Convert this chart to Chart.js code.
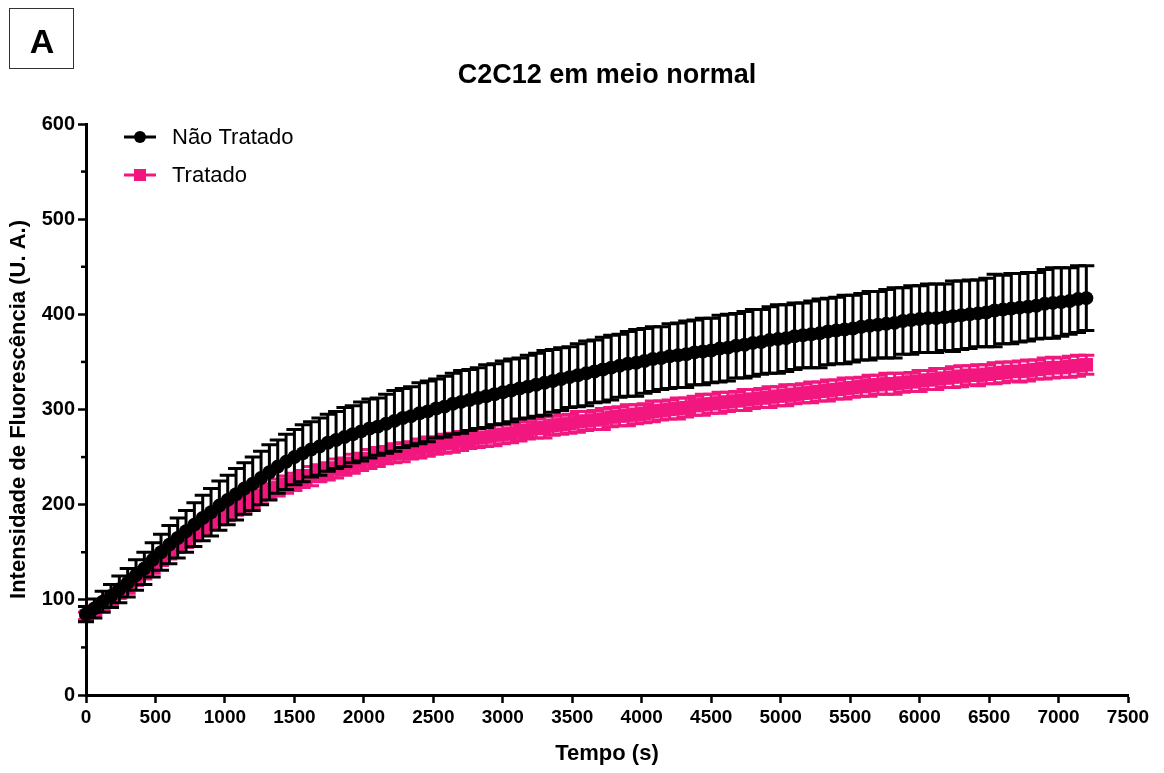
<!DOCTYPE html>
<html>
<head>
<meta charset="utf-8">
<title>C2C12 em meio normal</title>
<script src="https://cdn.jsdelivr.net/npm/chart.js@4.4.1/dist/chart.umd.min.js"></script>
<style>
  html, body { margin: 0; padding: 0; background: #fff; }
  #wrap { width: 1164px; height: 773px; position: relative; }
</style>
</head>
<body>
<div id="wrap"><canvas id="grafico" width="1164" height="773"></canvas></div>
<script>
const FONTE = "'Liberation Sans', Arial, Helvetica, sans-serif";
const ROSA = "#F2177F";

// tempo (s)
const tempo = [
  0, 60, 120, 180, 240, 300, 360, 420, 480, 540, 600,
  660, 720, 780, 840, 900, 960, 1020, 1080, 1140, 1200,
  1260, 1320, 1380, 1440, 1500, 1560, 1620, 1680, 1740, 1800,
  1860, 1920, 1980, 2040, 2100, 2160, 2220, 2280, 2340, 2400,
  2460, 2520, 2580, 2640, 2700, 2760, 2820, 2880, 2940, 3000,
  3060, 3120, 3180, 3240, 3300, 3360, 3420, 3480, 3540, 3600,
  3660, 3720, 3780, 3840, 3900, 3960, 4020, 4080, 4140, 4200,
  4260, 4320, 4380, 4440, 4500, 4560, 4620, 4680, 4740, 4800,
  4860, 4920, 4980, 5040, 5100, 5160, 5220, 5280, 5340, 5400,
  5460, 5520, 5580, 5640, 5700, 5760, 5820, 5880, 5940, 6000,
  6060, 6120, 6180, 6240, 6300, 6360, 6420, 6480, 6540, 6600,
  6660, 6720, 6780, 6840, 6900, 6960, 7020, 7080, 7140, 7200
];

// Não Tratado: média e desvio
const naoTratado = [
  85, 91, 98, 104, 111, 118, 126, 133, 142, 150, 158,
  165, 172, 179, 186, 192, 199, 205, 211, 217, 222,
  228, 234, 240, 245, 250, 254, 258, 261, 265, 268,
  271, 274, 277, 280, 282, 285, 288, 291, 293, 296,
  298, 301, 303, 306, 308, 310, 312, 314, 316, 318,
  320, 322, 324, 326, 328, 330, 332, 334, 336, 338,
  340, 342, 344, 346, 348, 349, 351, 353, 354, 356,
  357, 358, 360, 361, 362, 364, 365, 367, 368, 370,
  371, 373, 374, 375, 377, 378, 379, 380, 382, 383,
  384, 385, 387, 388, 389, 390, 391, 393, 394, 395,
  396, 396, 397, 398, 399, 400, 401, 402, 404, 405,
  406, 407, 408, 409, 411, 412, 413, 414, 416, 417
];
const naoTratadoDP = [
  8, 10, 11, 12, 14, 15, 16, 17, 18, 19, 20,
  21, 22, 23, 24, 25, 26, 26, 27, 27, 28,
  28, 29, 28, 29, 29, 30, 29, 30, 30, 30,
  31, 30, 31, 31, 30, 31, 32, 31, 31, 32,
  32, 31, 32, 32, 33, 32, 32, 33, 32, 33,
  33, 32, 33, 33, 34, 33, 33, 32, 33, 34,
  33, 34, 34, 33, 34, 35, 34, 34, 33, 34,
  34, 35, 34, 35, 34, 35, 35, 34, 35, 35,
  34, 35, 36, 35, 35, 34, 35, 36, 35, 35,
  36, 35, 35, 36, 35, 36, 37, 35, 36, 35,
  36, 36, 35, 37, 36, 36, 35, 36, 38, 36,
  37, 36, 36, 35, 36, 37, 36, 35, 35, 34
];

// Tratado: média e desvio
const tratado = [
  83, 88, 94, 100, 107, 113, 121, 128, 135, 143, 150,
  157, 163, 170, 176, 182, 187, 192, 197, 202, 206,
  210, 214, 218, 221, 224, 227, 230, 233, 235, 238,
  240, 243, 245, 248, 250, 252, 254, 255, 257, 259,
  261, 262, 264, 265, 267, 268, 270, 271, 273, 274,
  275, 277, 278, 280, 281, 283, 284, 285, 287, 288,
  289, 290, 292, 293, 294, 295, 296, 298, 299, 300,
  301, 302, 304, 305, 306, 307, 308, 309, 310, 311,
  312, 313, 314, 315, 316, 317, 318, 319, 320, 321,
  322, 323, 324, 325, 326, 327, 327, 328, 329, 330,
  331, 332, 333, 334, 335, 336, 336, 337, 338, 339,
  340, 340, 341, 342, 343, 344, 344, 345, 346, 347
];
const tratadoDP = [
  4, 4, 5, 5, 5, 6, 6, 6, 7, 7, 7,
  7, 8, 8, 8, 8, 8, 9, 8, 9, 9,
  9, 8, 9, 9, 9, 9, 10, 9, 9, 10,
  9, 10, 9, 10, 10, 9, 10, 10, 9, 10,
  10, 9, 10, 10, 10, 9, 10, 10, 11, 10,
  10, 10, 9, 10, 11, 10, 10, 10, 11, 10,
  10, 11, 10, 10, 11, 10, 10, 11, 10, 10,
  11, 10, 10, 11, 10, 11, 10, 10, 11, 10,
  10, 11, 10, 11, 10, 10, 11, 10, 11, 10,
  11, 10, 10, 11, 10, 11, 11, 10, 10, 11,
  10, 11, 10, 11, 11, 10, 11, 10, 11, 11,
  10, 11, 11, 10, 11, 11, 10, 11, 11, 10
];

const serieNomes = ["Não Tratado", "Tratado"];
const yTicks = [0, 100, 200, 300, 400, 500, 600];
const titulo = "C2C12 em meio normal";

function pontos(medias) {
  return tempo.map((t, i) => ({ x: t, y: medias[i] }));
}

// barras de erro (média ± DP) desenhadas antes de cada série
const barrasErro = {
  id: "barrasErro",
  beforeDatasetDraw(chart, args) {
    const ds = chart.data.datasets[args.index];
    if (!ds.erro) return;
    const ctx = chart.ctx;
    const yScale = chart.scales.y;
    ctx.save();
    ctx.strokeStyle = ds.borderColor;
    args.meta.data.forEach((el, i) => {
      const m = ds.data[i].y, dp = ds.erro[i];
      const yt = yScale.getPixelForValue(m + dp);
      const yb = yScale.getPixelForValue(m - dp);
      ctx.lineWidth = 3;
      ctx.beginPath();
      ctx.moveTo(el.x, yt); ctx.lineTo(el.x, yb);
      ctx.moveTo(el.x - 8, yt); ctx.lineTo(el.x + 8, yt);
      ctx.moveTo(el.x - 8, yb); ctx.lineTo(el.x + 8, yb);
      ctx.stroke();
    });
    ctx.restore();
  }
};

// título, legenda, traços menores e o quadro "A"
const extras = {
  id: "extras",
  afterDraw(chart) {
    const ctx = chart.ctx;
    const area = chart.chartArea;
    const yScale = chart.scales.y;
    ctx.save();

    // título centrado sobre a área do gráfico
    ctx.fillStyle = "#000";
    ctx.font = "bold 27px " + FONTE;
    ctx.textAlign = "center";
    ctx.textBaseline = "middle";
    ctx.fillText(titulo, (area.left + area.right) / 2, 76);

    // traços menores do eixo y
    ctx.strokeStyle = "#000";
    ctx.lineWidth = 2.5;
    for (let v = 50; v < 600; v += 100) {
      const py = yScale.getPixelForValue(v);
      ctx.beginPath(); ctx.moveTo(area.left, py); ctx.lineTo(area.left - 5, py); ctx.stroke();
    }

    // legenda
    ctx.font = "22px " + FONTE;
    ctx.textBaseline = "middle";
    ctx.textAlign = "left";
    chart.data.datasets.forEach((ds, i) => {
      const y = 137 + i * 38;
      ctx.strokeStyle = ds.borderColor;
      ctx.lineWidth = 3;
      ctx.beginPath(); ctx.moveTo(124, y); ctx.lineTo(156, y); ctx.stroke();
      ctx.fillStyle = ds.borderColor;
      if (ds.pointStyle === "rect") {
        ctx.fillRect(134, y - 6, 12, 12);
      } else {
        ctx.beginPath(); ctx.arc(140, y, 6, 0, Math.PI * 2); ctx.fill();
      }
      ctx.fillStyle = "#000";
      ctx.fillText(ds.label, 172, y + 1);
    });

    // quadro "A"
    ctx.strokeStyle = "#333";
    ctx.lineWidth = 1;
    ctx.strokeRect(9.5, 8.5, 64, 60);
    ctx.fillStyle = "#000";
    ctx.font = "bold 34px " + FONTE;
    ctx.textAlign = "center";
    ctx.textBaseline = "alphabetic";
    ctx.fillText("A", 42, 53);
    ctx.restore();
  }
};

const ctx = document.getElementById("grafico").getContext("2d");
new Chart(ctx, {
  type: "line",
  data: {
    datasets: [
      {
        label: serieNomes[0],
        data: pontos(naoTratado),
        erro: naoTratadoDP,
        borderColor: "#000",
        backgroundColor: "#000",
        borderWidth: 3,
        pointStyle: "circle",
        pointRadius: 7,
        pointBorderWidth: 0,
        clip: false
      },
      {
        label: serieNomes[1],
        data: pontos(tratado),
        erro: tratadoDP,
        borderColor: ROSA,
        backgroundColor: ROSA,
        borderWidth: 3,
        pointStyle: "rect",
        pointRadius: 9.5,
        pointBorderWidth: 0,
        clip: false
      }
    ]
  },
  options: {
    responsive: false,
    animation: false,
    devicePixelRatio: 1,
    layout: { padding: { left: 0, right: 36, top: 124, bottom: 0 } },
    plugins: {
      legend: { display: false },
      tooltip: { enabled: false },
      title: { display: false }
    },
    scales: {
      x: {
        type: "linear",
        min: 0,
        max: 7500,
        ticks: {
          stepSize: 500,
          autoSkip: false,
          maxRotation: 0,
          color: "#000",
          padding: 3,
          font: { family: FONTE, size: 19, weight: "bold" },
          callback: v => String(v)
        },
        grid: { drawOnChartArea: false, drawTicks: true, tickLength: 8, tickWidth: 2.5, tickColor: "#000" },
        border: { display: true, color: "#000", width: 3 },
        title: {
          display: true,
          text: "Tempo (s)",
          color: "#000",
          font: { family: FONTE, size: 22, weight: "bold" },
          padding: { top: 0, bottom: 6 }
        },
        afterFit(s) { s.height = 78; }
      },
      y: {
        min: 0,
        max: 600,
        afterBuildTicks(s) { s.ticks = yTicks.map(v => ({ value: v })); },
        ticks: {
          color: "#000",
          padding: 3,
          font: { family: FONTE, size: 20, weight: "bold" },
          callback: v => String(v)
        },
        grid: { drawOnChartArea: false, drawTicks: true, tickLength: 8, tickWidth: 2.5, tickColor: "#000" },
        border: { display: true, color: "#000", width: 3 },
        title: {
          display: true,
          text: "Intensidade de Fluorescência (U. A.)",
          color: "#000",
          font: { family: FONTE, size: 22, weight: "bold" },
          padding: { top: 6, bottom: 0 }
        },
        afterFit(s) { s.width = 86; }
      }
    }
  },
  plugins: [barrasErro, extras]
});
</script>
</body>
</html>
